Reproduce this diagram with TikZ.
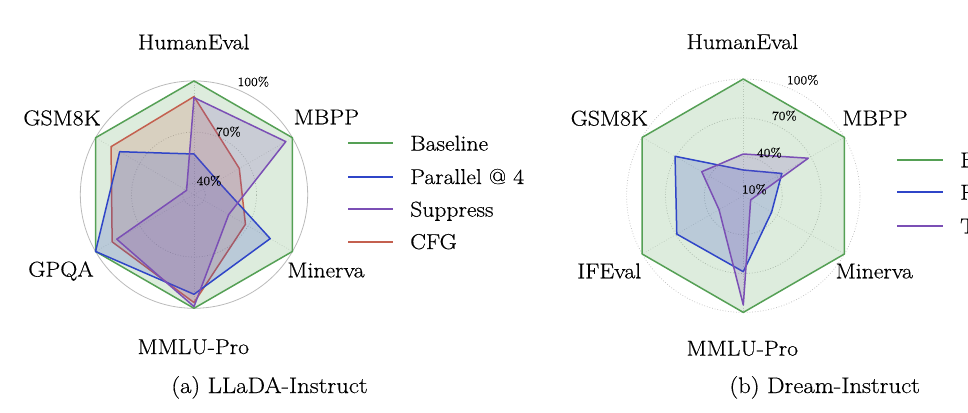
\documentclass[tikz,border=0pt]{standalone}
\usepackage{fontspec}
\setmainfont{Latin Modern Roman}[FakeBold=0.5,FakeStretch=1.1]
\definecolor{cgreen}{HTML}{55A055}
\definecolor{cblue}{HTML}{2F45C8}
\definecolor{cpurple}{HTML}{7B4FB5}
\definecolor{cred}{HTML}{C4604F}
\definecolor{cgrid}{HTML}{BBBBBB}
\tikzset{
  axlabel/.style={anchor=base,inner sep=0pt,font=\fontsize{21.5}{24}\selectfont},
  pctlabel/.style={anchor=center,inner sep=0pt,font=\fontsize{12.5}{14}\selectfont},
  caption/.style={anchor=base,inner sep=0pt,font=\fontsize{22.5}{26}\selectfont},
  legtext/.style={anchor=base west,inner sep=0pt,font=\fontsize{21.5}{24}\selectfont},
  series/.style={line width=1.5pt,line join=round,draw=#1,fill=#1,fill opacity=0.2},
  legline/.style={line width=1.5pt,draw=#1},
  gridsolid/.style={draw=cgrid,line width=0.8pt},
  griddot/.style={draw=cgrid,line width=0.7pt,dotted},
  spoke/.style={draw=cgrid!70,line width=0.6pt,dotted},
}
\begin{document}
\begin{tikzpicture}[x=1pt,y=1pt]
\useasboundingbox (0,0) rectangle (968,-412);
\clip (0,0) rectangle (968,-412);
\fill[white] (0,0) rectangle (968,-412);

% ---------------- left chart ----------------
\begin{scope}[shift={(194,-194.6)}]
  \draw[gridsolid] (0,0) circle (113.7);
  \draw[griddot] (0,0) circle (62.5);
  \draw[griddot] (0,0) circle (11.4);
  \foreach \a in {90,30,-30,-90,210,150} \draw[spoke] (0,0) -- (\a:113.7);
  \draw[series=cgreen] (90:113.7) -- (30:113.7) -- (-30:113.7) -- (-90:113.7) -- (210:113.7) -- (150:113.7) -- cycle;
  \draw[series=cred] (90:98) -- (30:52.3) -- (-30:59.4) -- (-90:108) -- (210:94.5) -- (150:95.8) -- cycle;
  \draw[series=cblue] (90:40.6) -- (30:27.3) -- (-30:88) -- (-90:99.7) -- (210:113.7) -- (150:85.8) -- cycle;
  \draw[series=cpurple] (90:97) -- (30:106) -- (-30:40) -- (-90:112) -- (210:89.2) -- (150:8.6) -- cycle;
\end{scope}
\node[pctlabel] (l100) at (253.3,-81.7) {100\%};
\node[pctlabel] (l70) at (228.3,-131.7) {70\%};
\node[pctlabel] (l40) at (209,-180.7) {40\%};

\node[axlabel] (lhe) at (193.7,-49.3) {HumanEval};
\node[axlabel] (lgsm) at (62,-125.3) {GSM8K};
\node[axlabel] (lmbpp) at (326.4,-124.3) {MBPP};
\node[axlabel] (lmin) at (326,-277.3) {Minerva};
\node[axlabel] (lgpqa) at (61,-276.6) {GPQA};
\node[axlabel] (lmmlu) at (193.3,-354) {MMLU-Pro};

% legend left
\draw[legline=cgreen] (348,-143) coordinate (lg1a) -- (393,-143) coordinate (lg1b);
\draw[legline=cblue] (348,-177) coordinate (lg2a) -- (393,-177) coordinate (lg2b);
\draw[legline=cpurple] (348,-209) coordinate (lg3a) -- (393,-209) coordinate (lg3b);
\draw[legline=cred] (348,-242) coordinate (lg4a) -- (393,-242) coordinate (lg4b);
\node[legtext] (lt1) at (410,-150.6) {Baseline};
\node[legtext] (lt2) at (410,-184) {Parallel @ 4};
\node[legtext] (lt3) at (410,-216.6) {Suppress};
\node[legtext] (lt4) at (410,-249) {CFG};

\node[caption] (capa) at (269.5,-393) {(a) LLaDA-Instruct};

% ---------------- right chart ----------------
\begin{scope}[shift={(743.3,-195.7)}]
  \draw[griddot] (0,0) circle (116.7);
  \draw[griddot] (0,0) circle (77.8);
  \draw[griddot] (0,0) circle (38.9);
  \foreach \a in {90,30,-30,-90,210,150} \draw[spoke] (0,0) -- (\a:116.7);
  \draw[series=cgreen] (90:116.7) -- (30:116.7) -- (-30:116.7) -- (-90:116.7) -- (210:116.7) -- (150:116.7) -- cycle;
  \draw[series=cblue] (90:25.7) -- (30:44.5) -- (-30:32.7) -- (-90:76) -- (210:76.8) -- (150:78.8) -- cycle;
  \draw[series=cpurple] (90:41.7) -- (30:75) -- (-30:8.5) -- (-90:109.3) -- (210:28) -- (150:48) -- cycle;
\end{scope}
\node[pctlabel] (r100) at (802.7,-80) {100\%};
\node[pctlabel] (r70) at (784.3,-115.7) {70\%};
\node[pctlabel] (r40) at (769.3,-152.7) {40\%};
\node[pctlabel] (r10) at (754.3,-189.3) {10\%};

\node[axlabel] (rhe) at (742.3,-49) {HumanEval};
\node[axlabel] (rgsm) at (609.3,-125.6) {GSM8K};
\node[axlabel] (rmbpp) at (875,-125.3) {MBPP};
\node[axlabel] (rife) at (609.3,-278.3) {IFEval};
\node[axlabel] (rmin) at (874.3,-278.3) {Minerva};
\node[axlabel] (rmmlu) at (742.3,-355.6) {MMLU-Pro};

% legend right (cut by the picture edge)
\draw[legline=cgreen] (897.3,-160) coordinate (rg1a) -- (943.3,-160) coordinate (rg1b);
\draw[legline=cblue] (897.3,-192) coordinate (rg2a) -- (943.3,-192) coordinate (rg2b);
\draw[legline=cpurple] (897.3,-226) coordinate (rg3a) -- (943.3,-226) coordinate (rg3b);
\node[legtext] (rt1) at (960,-167.3) {Baseline};
\node[legtext] (rt2) at (960,-199.6) {Parallel @ 4};
\node[legtext] (rt3) at (960,-233.3) {T};

\node[caption] (capb) at (824.7,-393) {(b) Dream-Instruct};
\end{tikzpicture}
\end{document}
